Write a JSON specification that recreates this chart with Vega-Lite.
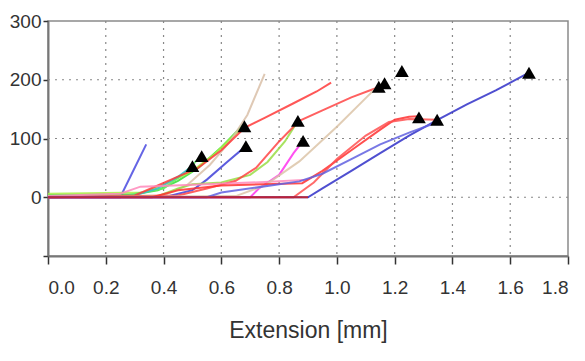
{
  "$schema": "https://vega.github.io/schema/vega-lite/v6.json",
  "width": 520,
  "height": 235,
  "autosize": {"type": "none"},
  "padding": {"left": 48, "top": 21, "right": 17, "bottom": 105},
  "background": "white",
  "config": {
    "view": {"stroke": "#8a8a8a", "strokeWidth": 1.5},
    "axis": {"labelFont": "Liberation Sans", "titleFont": "Liberation Sans", "labelColor": "#333", "titleColor": "#333", "grid": false, "domainColor": "#777", "domainWidth": 2, "tickColor": "#333", "tickWidth": 1.5}
  },
  "datasets": {
    "curves": [
      {"s":"a","x":0.0,"y":0},{"s":"a","x":0.25,"y":0},{"s":"a","x":0.29,"y":40},{"s":"a","x":0.34,"y":90},
      {"s":"b","x":0.0,"y":4},{"s":"b","x":0.3,"y":5},{"s":"b","x":0.38,"y":12},{"s":"b","x":0.45,"y":28},{"s":"b","x":0.52,"y":50},{"s":"b","x":0.6,"y":85},{"s":"b","x":0.68,"y":125},
      {"s":"c","x":0.0,"y":6},{"s":"c","x":0.33,"y":8},{"s":"c","x":0.42,"y":25},{"s":"c","x":0.5,"y":45},{"s":"c","x":0.58,"y":75},{"s":"c","x":0.67,"y":118},
      {"s":"d","x":0.0,"y":3},{"s":"d","x":0.28,"y":4},{"s":"d","x":0.4,"y":15},{"s":"d","x":0.47,"y":40},{"s":"d","x":0.53,"y":70},
      {"s":"e","x":0.0,"y":1},{"s":"e","x":0.3,"y":3},{"s":"e","x":0.38,"y":15},{"s":"e","x":0.45,"y":35},{"s":"e","x":0.5,"y":53},
      {"s":"f","x":0.0,"y":0},{"s":"f","x":0.4,"y":3},{"s":"f","x":0.48,"y":20},{"s":"f","x":0.56,"y":55},{"s":"f","x":0.63,"y":95},{"s":"f","x":0.69,"y":140},{"s":"f","x":0.75,"y":210},
      {"s":"g","x":0.0,"y":0},{"s":"g","x":0.3,"y":3},{"s":"g","x":0.38,"y":20},{"s":"g","x":0.45,"y":35},{"s":"g","x":0.52,"y":50},{"s":"g","x":0.6,"y":80},{"s":"g","x":0.68,"y":118},{"s":"g","x":0.75,"y":135},{"s":"g","x":0.85,"y":160},{"s":"g","x":0.93,"y":180},{"s":"g","x":0.98,"y":195},
      {"s":"h","x":0.0,"y":0},{"s":"h","x":0.42,"y":2},{"s":"h","x":0.5,"y":12},{"s":"h","x":0.55,"y":30},{"s":"h","x":0.62,"y":60},{"s":"h","x":0.685,"y":87},
      {"s":"i","x":0.0,"y":0},{"s":"i","x":0.38,"y":2},{"s":"i","x":0.45,"y":15},{"s":"i","x":0.5,"y":22},{"s":"i","x":0.6,"y":25},{"s":"i","x":0.7,"y":38},{"s":"i","x":0.76,"y":60},{"s":"i","x":0.82,"y":95},{"s":"i","x":0.865,"y":130},
      {"s":"j","x":0.0,"y":0},{"s":"j","x":0.45,"y":3},{"s":"j","x":0.55,"y":15},{"s":"j","x":0.65,"y":28},{"s":"j","x":0.72,"y":50},{"s":"j","x":0.8,"y":95},{"s":"j","x":0.87,"y":130},{"s":"j","x":0.95,"y":148},{"s":"j","x":1.05,"y":170},{"s":"j","x":1.12,"y":183},{"s":"j","x":1.15,"y":188},
      {"s":"k","x":0.0,"y":0},{"s":"k","x":0.7,"y":0},{"s":"k","x":0.73,"y":15},{"s":"k","x":0.8,"y":38},{"s":"k","x":0.85,"y":75},{"s":"k","x":0.883,"y":96},
      {"s":"l","x":0.0,"y":2},{"s":"l","x":0.25,"y":6},{"s":"l","x":0.32,"y":18},{"s":"l","x":0.55,"y":22},{"s":"l","x":0.75,"y":26},{"s":"l","x":0.9,"y":30},
      {"s":"m","x":0.0,"y":0},{"s":"m","x":0.65,"y":2},{"s":"m","x":0.75,"y":20},{"s":"m","x":0.87,"y":61},{"s":"m","x":1.0,"y":120},{"s":"m","x":1.125,"y":181},{"s":"m","x":1.16,"y":195},
      {"s":"n","x":0.0,"y":0},{"s":"n","x":0.36,"y":0},{"s":"n","x":0.45,"y":12},{"s":"n","x":0.6,"y":20},{"s":"n","x":0.88,"y":24},{"s":"n","x":0.95,"y":45},{"s":"n","x":1.05,"y":80},{"s":"n","x":1.15,"y":115},{"s":"n","x":1.2,"y":132},{"s":"n","x":1.25,"y":137},{"s":"n","x":1.284,"y":138},
      {"s":"o","x":0.0,"y":0},{"s":"o","x":0.85,"y":0},{"s":"o","x":0.92,"y":25},{"s":"o","x":1.0,"y":65},{"s":"o","x":1.1,"y":105},{"s":"o","x":1.18,"y":128},{"s":"o","x":1.25,"y":133},{"s":"o","x":1.347,"y":132},
      {"s":"p","x":0.0,"y":0},{"s":"p","x":0.9,"y":0},{"s":"p","x":0.95,"y":15},{"s":"p","x":1.05,"y":45},{"s":"p","x":1.15,"y":75},{"s":"p","x":1.25,"y":105},{"s":"p","x":1.35,"y":132},{"s":"p","x":1.45,"y":158},{"s":"p","x":1.55,"y":182},{"s":"p","x":1.665,"y":212},
      {"s":"q","x":0.0,"y":0},{"s":"q","x":0.55,"y":0},{"s":"q","x":0.6,"y":8},{"s":"q","x":0.87,"y":27},{"s":"q","x":0.95,"y":40},{"s":"q","x":1.05,"y":65},{"s":"q","x":1.15,"y":90},{"s":"q","x":1.25,"y":110},{"s":"q","x":1.35,"y":128},
      {"s":"r","x":0.0,"y":0},{"s":"r","x":0.9,"y":0}
    ],
    "markers": [
      {"x":0.5,"y":53},{"x":0.532,"y":70},{"x":0.68,"y":121},{"x":0.685,"y":87},{"x":0.865,"y":130},{"x":0.883,"y":96},
      {"x":1.145,"y":188},{"x":1.165,"y":194},{"x":1.225,"y":215},{"x":1.284,"y":136},{"x":1.347,"y":132},{"x":1.665,"y":212}
    ],
    "vgrid": [{"v":0.2},{"v":0.4},{"v":0.6},{"v":0.8},{"v":1.0},{"v":1.2},{"v":1.4},{"v":1.6}],
    "hgrid": [{"v":0},{"v":100},{"v":200}]
  },
  "layer": [
    {
      "data": {"name": "vgrid"},
      "mark": {"type": "rule", "color": "#888", "strokeDash": [2, 5], "strokeWidth": 1.2},
      "encoding": {
        "x": {"field": "v", "type": "quantitative", "scale": {"domain": [0, 1.8], "nice": false},
          "axis": {"values": [0,0.1,0.2,0.3,0.4,0.5,0.6,0.7,0.8,0.9,1.0,1.1,1.2,1.3,1.4,1.5,1.6,1.7,1.8], "labelExpr": "round(datum.value*10) % 2 == 0 ? format(datum.value, '.1f') : ''", "labelFontSize": 19, "tickSize": 8, "labelPadding": 14, "title": "Extension [mm]", "titleFontSize": 23, "titleFontWeight": "normal", "titlePadding": 22}}
      }
    },
    {
      "data": {"name": "hgrid"},
      "mark": {"type": "rule", "color": "#888", "strokeDash": [2, 5], "strokeWidth": 1.2},
      "encoding": {
        "y": {"field": "v", "type": "quantitative", "scale": {"domain": [-100, 300], "nice": false},
          "axis": {"values": [-100,-50,0,50,100,150,200,250,300], "labelExpr": "datum.value >= 0 && datum.value % 100 == 0 ? datum.value : ''", "labelFontSize": 19, "tickSize": 5, "labelPadding": 2, "title": null}}
      }
    },
    {
      "data": {"name": "curves"},
      "mark": {"type": "line", "strokeWidth": 2, "opacity": 0.85},
      "encoding": {
        "x": {"field": "x", "type": "quantitative"},
        "y": {"field": "y", "type": "quantitative"},
        "color": {"field": "s", "type": "nominal", "legend": null,
          "scale": {"domain": ["a","b","c","d","e","f","g","h","i","j","k","l","m","n","o","p","q","r"],
            "range": ["#4a4ae0","#33dd33","#aaee44","#66ee66","#33bbcc","#d9c0a8","#ff3a3a","#4040d8","#99dd44","#ff4444","#ff33ee","#ff88bb","#dcc4a8","#ff3030","#ff5050","#3030c8","#6060e0","#cc2020"]}}
      }
    },
    {
      "data": {"name": "markers"},
      "mark": {"type": "point", "shape": "triangle-up", "filled": true, "color": "black", "opacity": 1, "size": 190},
      "encoding": {
        "x": {"field": "x", "type": "quantitative"},
        "y": {"field": "y", "type": "quantitative"}
      }
    },
    {
      "mark": {"type": "rule", "color": "black", "strokeWidth": 2.5},
      "encoding": {"y": {"datum": 300}}
    }
  ]
}
